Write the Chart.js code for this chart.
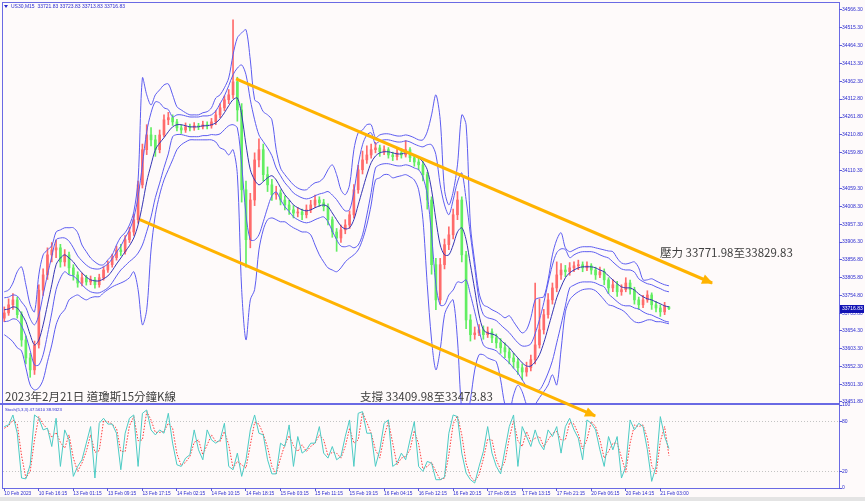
<!DOCTYPE html>
<html lang="zh-Hant">
<head>
<meta charset="utf-8">
<title>US30 M15</title>
<script src="https://cdn.jsdelivr.net/npm/chart.js@4.4.1/dist/chart.umd.min.js"></script>
<style>
  html, body { margin: 0; padding: 0; background: #fefafa; }
  #wrap { position: relative; width: 865px; height: 501px; overflow: hidden; background: #fefafa; }
  #wrap canvas { position: absolute; left: 0; top: 0; }
  #stoch-chart { z-index: 1; }
  #price-chart { z-index: 2; }
  .frame { position: absolute; background: #6a6ae4; z-index: 0; }
  .tiny { position: absolute; z-index: 3; font-family: 'Liberation Sans', Arial, sans-serif; color: #2b2bd0; white-space: nowrap; line-height: 1; }
  .note { position: absolute; z-index: 3; font-family: 'Noto Sans CJK TC', 'Noto Sans CJK SC', sans-serif; font-size: 11.5px; color: #404040; white-space: nowrap; line-height: 1; }
  .tri { position: absolute; left: 4px; top: 5px; width: 0; height: 0; border-left: 2px solid transparent; border-right: 2px solid transparent; border-top: 3px solid #2b2bd0; z-index: 3; }
  #status { position: absolute; left: 0; top: 497px; width: 865px; height: 4px; background: #e4e4e4; }
</style>
</head>
<body>
<div id="wrap">
  <div class="frame" style="left:2px;top:2px;width:838px;height:1px"></div>
  <div class="frame" style="left:2px;top:2px;width:1px;height:487px"></div>
  <div class="frame" style="left:839px;top:2px;width:1px;height:487px"></div>
  <div class="frame" style="left:0;top:403px;width:840px;height:2px"></div>
  <div class="frame" style="left:2px;top:488px;width:838px;height:1px"></div>
  <div id="status"></div>
  <canvas id="stoch-chart" width="865" height="501"></canvas>
  <canvas id="price-chart" width="865" height="501"></canvas>
  <div class="tri"></div>
  <div class="tiny" style="left:11px;top:4px;font-size:5px">US30,M15&nbsp;&nbsp;33721.83 33723.83 33713.83 33716.83</div>
  <div class="tiny" style="left:5px;top:408px;font-size:4.3px">Stoch(5,3,3) 47.5610 38.9323</div>
  <div class="note" style="left:5px;top:391px">2023年2月21日 道瓊斯15分鐘K線</div>
  <div class="note" style="left:360px;top:391px">支撐 33409.98至33473.83</div>
  <div class="note" style="left:660px;top:247px">壓力 33771.98至33829.83</div>
</div>
<script>
// time axis labels, one every 8 hourly bars
const timeLabels = ['10 Feb 2023', '10 Feb 16:15', '13 Feb 01:15', '13 Feb 09:15', '13 Feb 17:15', '14 Feb 02:15',
  '14 Feb 10:15', '14 Feb 18:15', '15 Feb 03:15', '15 Feb 11:15', '15 Feb 19:15', '16 Feb 04:15', '16 Feb 12:15',
  '16 Feb 20:15', '17 Feb 05:15', '17 Feb 13:15', '17 Feb 21:15', '20 Feb 06:15', '20 Feb 14:15', '21 Feb 03:00'];
const LABEL_EVERY = 8;

const priceTicks = [34566.30, 34515.30, 34464.30, 34413.30, 34362.30, 34312.80, 34261.80, 34210.80, 34159.80,
  34110.30, 34059.30, 34008.30, 33957.30, 33906.30, 33856.80, 33805.80, 33754.80, 33703.80, 33654.30,
  33603.30, 33552.30, 33501.30, 33451.80];
const stochTicks = [0, 20, 80, 100];

const opens = [33690,33705,33728,33742,33700,33628,33577,33543,33614,33770,
  33813,33870,33884,33890,33850,33870,33833,33813,33790,33805,
  33793,33799,33785,33805,33827,33842,33862,33884,33879,33913,
  33935,33970,34069,34169,34211,34197,34169,34211,34254,34260,
  34248,34231,34225,34234,34231,34237,34234,34240,34237,34248,
  34268,34288,34311,34325,34362,34282,34055,33913,34026,34140,
  34169,34098,34069,34041,34046,34026,34012,33998,33989,33992,
  33984,33998,34012,34026,34018,34007,33970,33935,33918,33941,
  33955,33984,34055,34112,34140,34154,34169,34174,34163,34169,
  34154,34149,34160,34154,34169,34146,34134,34126,34098,34026,
  33842,33742,33842,33899,33927,33984,34026,33870,33685,33643,
  33648,33657,33643,33651,33634,33620,33606,33594,33577,33566,
  33549,33537,33549,33572,33614,33657,33700,33742,33776,33813,
  33827,33822,33833,33839,33842,33833,33839,33827,33813,33822,
  33799,33776,33785,33765,33771,33790,33771,33742,33728,33742,
  33756,33728,33719,33708,33721.83];
const highs = [33722,33745,33760,33750,33708,33640,33590,33625,33785,33830,
  33890,33905,33912,33900,33885,33878,33842,33822,33818,33812,
  33810,33806,33815,33836,33852,33872,33895,33900,33925,33948,
  33985,34080,34185,34240,34232,34210,34225,34268,34275,34268,
  34255,34240,34245,34242,34246,34244,34250,34248,34258,34280,
  34300,34322,34340,34538,34375,34300,34080,34045,34160,34200,
  34185,34120,34085,34065,34055,34038,34025,34010,34005,34000,
  34012,34025,34040,34035,34028,34015,33978,33945,33955,33970,
  33995,34070,34125,34165,34180,34185,34190,34182,34180,34175,
  34162,34170,34172,34195,34175,34155,34145,34135,34105,34035,
  33860,33860,33915,33950,34000,34050,34035,33880,33700,33665,
  33672,33668,33665,33660,33645,33632,33620,33605,33590,33575,
  33560,33565,33585,33790,33745,33715,33760,33790,33850,33845,
  33840,33848,33850,33855,33850,33850,33845,33835,33835,33830,
  33805,33800,33795,33785,33805,33798,33778,33750,33755,33768,
  33762,33738,33728,33735,33723.83];
const lows = [33680,33698,33715,33690,33610,33560,33522,33530,33605,33755,
  33800,33850,33862,33835,33838,33815,33798,33778,33782,33784,
  33785,33775,33778,33798,33820,33835,33855,33868,33872,33905,
  33925,33960,34060,34155,34180,34150,34160,34205,34240,34238,
  34222,34215,34218,34222,34224,34226,34228,34228,34230,34240,
  34260,34280,34300,34315,34250,34020,33835,33890,34010,34120,
  34080,34050,34025,34028,34012,33998,33985,33975,33978,33970,
  33975,33990,34005,34008,33995,33955,33920,33880,33905,33930,
  33945,33975,34045,34100,34130,34145,34160,34150,34155,34145,
  34138,34140,34145,34148,34135,34122,34112,34080,34000,33815,
  33714,33730,33830,33885,33915,33970,33850,33660,33625,33630,
  33640,33630,33635,33620,33605,33590,33578,33560,33548,33530,
  33515,33525,33540,33560,33605,33645,33690,33730,33765,33800,
  33808,33812,33822,33828,33822,33825,33815,33800,33805,33785,
  33760,33765,33752,33755,33765,33758,33730,33715,33720,33735,
  33715,33708,33695,33700,33713.83];
const closes = [33705,33728,33742,33700,33628,33577,33543,33614,33770,33813,
  33870,33884,33890,33850,33870,33833,33813,33790,33805,33793,
  33799,33785,33805,33827,33842,33862,33884,33879,33913,33935,
  33970,34069,34169,34211,34197,34169,34211,34254,34260,34248,
  34231,34225,34234,34231,34237,34234,34240,34237,34248,34268,
  34288,34311,34325,34362,34282,34055,33913,34026,34140,34169,
  34098,34069,34041,34046,34026,34012,33998,33989,33992,33984,
  33998,34012,34026,34018,34007,33970,33935,33918,33941,33955,
  33984,34055,34112,34140,34154,34169,34174,34163,34169,34154,
  34149,34160,34154,34169,34146,34134,34126,34098,34026,33842,
  33742,33842,33899,33927,33984,34026,33870,33685,33643,33648,
  33657,33643,33651,33634,33620,33606,33594,33577,33566,33549,
  33537,33549,33572,33614,33657,33700,33742,33776,33813,33827,
  33822,33833,33839,33842,33833,33839,33827,33813,33822,33799,
  33776,33785,33765,33771,33790,33771,33742,33728,33742,33756,
  33728,33719,33708,33725,33716.83];

const bandOuterUp = [33765,33770,33790,33822,33836,33785,33728,33708,33813,33870,
  33884,33896,33935,33941,33947,33947,33947,33933,33898,33879,
  33861,33850,33842,33842,33856,33870,33898,33921,33933,33955,
  33992,34083,34373,34325,34296,34325,34339,34353,34356,34325,
  34291,34282,34274,34268,34268,34268,34274,34277,34288,34316,
  34325,34345,34373,34439,34487,34501,34510,34424,34311,34302,
  34277,34268,34254,34169,34117,34098,34083,34069,34060,34055,
  34055,34066,34075,34078,34089,34112,34126,34098,34055,34041,
  34069,34169,34217,34225,34240,34240,34203,34211,34214,34214,
  34211,34208,34208,34211,34208,34203,34197,34197,34220,34268,
  34325,34254,34055,34012,34049,34126,34268,34240,33955,33850,
  33762,33728,33722,33714,33708,33700,33691,33697,33680,33662,
  33648,33657,33691,33742,33748,33751,33799,33870,33913,33933,
  33890,33879,33884,33890,33893,33893,33893,33890,33887,33884,
  33881,33879,33861,33847,33844,33847,33850,33833,33799,33799,
  33802,33796,33790,33785,33782];
const bandUp = [33748,33750,33756,33753,33736,33720,33688,33671,33699,33756,
  33813,33865,33913,33918,33918,33909,33890,33867,33853,33841,
  33833,33830,33830,33836,33844,33859,33878,33895,33919,33941,
  33975,34035,34126,34220,34274,34305,34302,34288,34283,34262,
  34268,34268,34265,34262,34262,34262,34265,34265,34268,34279,
  34300,34322,34351,34382,34401,34410,34382,34311,34254,34211,
  34192,34174,34152,34117,34095,34075,34061,34046,34038,34032,
  34029,34032,34038,34043,34046,34050,34040,34027,34009,33995,
  33998,34050,34126,34183,34211,34217,34185,34194,34197,34197,
  34194,34191,34191,34194,34191,34185,34180,34177,34183,34183,
  34155,34069,34012,33984,34026,34077,34103,34027,33927,33834,
  33742,33700,33691,33688,33683,33671,33660,33649,33634,33620,
  33611,33611,33617,33646,33686,33734,33790,33841,33876,33887,
  33885,33862,33870,33876,33879,33879,33879,33876,33870,33865,
  33861,33850,33839,33830,33827,33827,33821,33802,33794,33788,
  33785,33779,33774,33768,33765];
const bandMid = [33714,33716,33722,33719,33702,33680,33643,33614,33628,33671,
  33728,33785,33842,33861,33870,33861,33850,33833,33819,33807,
  33799,33796,33796,33802,33810,33825,33844,33861,33879,33896,
  33918,33955,34012,34078,34126,34169,34188,34203,34220,34234,
  34240,34240,34237,34234,34234,34234,34237,34237,34240,34245,
  34257,34274,34294,34311,34316,34268,34183,34112,34083,34069,
  34078,34089,34095,34083,34061,34041,34027,34012,34004,33998,
  33995,33998,34004,34009,34012,34007,33989,33970,33952,33944,
  33947,33970,34012,34055,34097,34132,34151,34160,34163,34163,
  34160,34157,34157,34160,34157,34151,34146,34134,34112,34055,
  33970,33898,33870,33870,33898,33935,33947,33913,33842,33771,
  33699,33657,33648,33645,33640,33628,33617,33606,33591,33577,
  33563,33554,33554,33566,33586,33620,33662,33705,33748,33779,
  33805,33819,33827,33833,33836,33836,33836,33833,33827,33822,
  33810,33799,33788,33779,33776,33776,33770,33759,33751,33745,
  33742,33736,33731,33725,33722];
const bandLow = [33680,33682,33688,33685,33668,33640,33598,33557,33557,33586,
  33643,33705,33771,33804,33822,33813,33810,33799,33785,33773,
  33765,33762,33762,33768,33776,33791,33810,33827,33839,33851,
  33861,33875,33898,33936,33978,34033,34074,34118,34157,34206,
  34212,34212,34209,34206,34206,34206,34209,34209,34212,34211,
  34214,34226,34237,34240,34231,34126,33984,33913,33912,33927,
  33964,34004,34038,34049,34027,34007,33993,33978,33970,33964,
  33961,33964,33970,33975,33978,33964,33938,33913,33895,33893,
  33896,33890,33898,33927,33983,34047,34117,34126,34129,34129,
  34126,34123,34123,34126,34123,34117,34112,34091,34041,33927,
  33785,33727,33728,33756,33770,33793,33791,33799,33757,33708,
  33656,33614,33605,33602,33597,33585,33574,33563,33548,33534,
  33515,33497,33491,33486,33486,33506,33534,33569,33620,33671,
  33725,33776,33784,33790,33793,33793,33793,33790,33784,33779,
  33759,33748,33737,33728,33725,33725,33719,33716,33708,33702,
  33699,33693,33688,33682,33679];
const bandOuterLow = [33643,33634,33623,33606,33597,33549,33500,33486,33492,33515,
  33566,33614,33671,33700,33714,33742,33751,33756,33748,33742,
  33748,33751,33751,33762,33771,33779,33785,33790,33796,33805,
  33822,33771,33671,33714,33884,33984,34041,34083,34112,34140,
  34169,34183,34191,34197,34197,34197,34197,34197,34197,34191,
  34174,34169,34154,34169,34098,33771,33628,33742,33771,33884,
  33941,33970,33975,33970,33964,33964,33955,33947,33941,33935,
  33935,33927,33898,33870,33850,33833,33827,33822,33833,33850,
  33861,33870,33884,33913,33955,34012,34083,34089,34098,34098,
  34089,34092,34095,34098,34092,34083,34055,33970,33785,33628,
  33543,33600,33700,33728,33742,33628,33429,33401,33458,33543,
  33586,33586,33577,33572,33566,33515,33444,33424,33472,33500,
  33481,33444,33424,33444,33464,33481,33500,33529,33500,33600,
  33708,33742,33756,33765,33771,33773,33773,33768,33756,33742,
  33728,33725,33719,33714,33705,33691,33680,33677,33680,33685,
  33685,33680,33680,33677,33674];

const stochMain = [74,76,88,66,12,11,28,88,84,70,
  72,50,84,26,70,58,14,26,34,54,
  74,12,78,84,77,77,66,22,66,84,
  88,26,90,94,70,64,70,66,90,54,
  28,26,36,40,70,46,34,70,58,54,
  58,78,26,22,42,14,34,70,88,66,
  64,34,17,17,54,50,76,26,62,42,
  46,54,54,74,42,36,50,34,38,62,
  82,26,90,92,66,66,26,46,78,82,
  26,30,42,34,58,80,26,20,32,30,
  10,10,13,66,88,86,42,18,10,6,
  26,44,74,42,26,17,46,74,88,26,
  74,62,50,70,54,46,70,62,74,42,
  74,84,70,60,34,82,78,70,46,26,
  62,46,62,12,26,82,70,78,74,46,
  8,26,86,62,47.56];
const stochSignal = [72,75,82,77,39,12,20,58,86,77,
  71,61,67,55,48,64,36,20,30,44,
  64,43,45,81,80,77,72,44,44,75,
  86,57,58,92,82,67,67,68,78,72,
  41,27,31,38,55,58,40,52,64,56,
  56,68,52,24,32,28,24,52,79,77,
  65,49,26,17,36,52,63,51,44,52,
  44,50,54,64,58,39,43,42,36,50,
  72,54,58,91,79,66,46,36,62,80,
  54,28,36,38,46,69,53,23,26,31,
  20,10,12,40,77,87,64,30,14,8,
  16,35,59,58,34,22,32,60,81,57,
  50,68,56,60,62,50,58,66,68,58,
  58,79,77,65,47,58,80,74,58,36,
  44,54,54,37,19,54,76,74,76,60,
  27,17,56,74,38.93];

// hand drawn trend lines: [bar index, price] at start and end
const resistanceX = [53.7, 164.0];
const resistancePrice = [34370, 33790];
const supportX = [31.4, 136.9];
const supportPrice = [33970, 33412];

const X_MIN = -0.3;
const X_MAX = 193.4;
const UP = '#ff6b6b';
const DOWN = '#62ee62';
const AXIS_TEXT = '#2b2bd0';
const AXIS_TICK = '#5a5ad8';
const BAND = '#5c5cf0';
const ORANGE = '#ffb300';

Chart.defaults.font.family = "'Liberation Sans', Arial, sans-serif";

function series(values) {
  return values.map((v, i) => ({ x: i, y: v }));
}

function candleColor(i) {
  return closes[i] >= opens[i] ? UP : DOWN;
}

function bandLine(values, color) {
  return { type: 'line', data: series(values), borderColor: color, borderWidth: 1, pointRadius: 0, tension: 0.3, order: 1 };
}

function trendLine(xs, ys) {
  return {
    type: 'line',
    data: xs.map((x, i) => ({ x, y: ys[i] })),
    borderColor: ORANGE,
    borderWidth: 3,
    pointRadius: 0,
    clip: false,
    order: 0,
    arrow: true
  };
}

const arrowHeads = {
  id: 'arrowHeads',
  afterDatasetsDraw(chart) {
    const ctx = chart.ctx;
    chart.data.datasets.forEach((ds, di) => {
      if (!ds.arrow) return;
      const pts = chart.getDatasetMeta(di).data;
      const a = pts[pts.length - 2];
      const b = pts[pts.length - 1];
      const ang = Math.atan2(b.y - a.y, b.x - a.x);
      ctx.save();
      ctx.fillStyle = ds.borderColor;
      ctx.translate(b.x, b.y);
      ctx.rotate(ang);
      ctx.beginPath();
      ctx.moveTo(1, 0);
      ctx.lineTo(-10, -5);
      ctx.lineTo(-10, 5);
      ctx.closePath();
      ctx.fill();
      ctx.restore();
    });
  }
};

const lastPriceTag = {
  id: 'lastPriceTag',
  afterDraw(chart) {
    const s = chart.scales.y;
    const last = closes[closes.length - 1];
    const y = Math.round(s.getPixelForValue(last));
    const ctx = chart.ctx;
    ctx.save();
    ctx.fillStyle = '#1212b4';
    ctx.fillRect(s.left + 1, y - 4, s.width - 2, 8);
    ctx.fillStyle = '#ffffff';
    ctx.font = "5px 'Liberation Sans', Arial, sans-serif";
    ctx.textBaseline = 'middle';
    ctx.fillText(last.toFixed(2), s.left + 3, y);
    ctx.restore();
  }
};

const idx = closes.map((_, i) => i);

new Chart(document.getElementById('price-chart'), {
  type: 'bar',
  data: {
    datasets: [
      trendLine(resistanceX, resistancePrice),
      trendLine(supportX, supportPrice),
      bandLine(bandMid, '#3434b4'),
      bandLine(bandOuterUp, BAND),
      bandLine(bandUp, BAND),
      bandLine(bandLow, BAND),
      bandLine(bandOuterLow, BAND),
      {
        data: idx.map((i) => ({ x: i, y: [opens[i], closes[i]] })),
        backgroundColor: (c) => candleColor(c.dataIndex),
        barThickness: 2,
        minBarLength: 1,
        grouped: false,
        order: 2
      },
      {
        data: idx.map((i) => ({ x: i, y: [lows[i], highs[i]] })),
        backgroundColor: (c) => candleColor(c.dataIndex),
        barThickness: 1,
        grouped: false,
        order: 3
      }
    ]
  },
  options: {
    responsive: false,
    animation: false,
    events: [],
    layout: { padding: { left: 3, top: 3, right: 0, bottom: 97 } },
    plugins: { legend: { display: false }, tooltip: { enabled: false } },
    scales: {
      x: { type: 'linear', min: X_MIN, max: X_MAX, offset: false, display: false },
      y: {
        position: 'right',
        min: 33446,
        max: 34586,
        afterFit: (scale) => { scale.width = 26; },
        afterBuildTicks: (scale) => { scale.ticks = priceTicks.map((v) => ({ value: v })); },
        ticks: {
          autoSkip: false,
          padding: 0,
          color: AXIS_TEXT,
          font: { size: 5 },
          callback: (v) => Number(v).toFixed(2)
        },
        grid: { drawOnChartArea: false, drawTicks: true, tickLength: 3, tickColor: AXIS_TICK },
        border: { display: false }
      }
    }
  },
  plugins: [arrowHeads, lastPriceTag]
});

new Chart(document.getElementById('stoch-chart'), {
  type: 'line',
  data: {
    datasets: [
      { data: series(stochMain), borderColor: '#4ccbc4', borderWidth: 1, pointRadius: 0, tension: 0 },
      { data: series(stochSignal), borderColor: '#ff3a3a', borderWidth: 1, borderDash: [1.5, 1.5], pointRadius: 0, tension: 0 }
    ]
  },
  options: {
    responsive: false,
    animation: false,
    events: [],
    layout: { padding: { left: 3, top: 405, right: 0, bottom: 0 } },
    plugins: { legend: { display: false }, tooltip: { enabled: false } },
    scales: {
      x: {
        type: 'linear',
        min: X_MIN,
        max: X_MAX,
        offset: false,
        afterFit: (scale) => { scale.height = 13; },
        afterBuildTicks: (scale) => { scale.ticks = timeLabels.map((_, k) => ({ value: k * LABEL_EVERY })); },
        ticks: {
          autoSkip: false,
          maxRotation: 0,
          align: 'start',
          padding: 0,
          color: AXIS_TEXT,
          font: { size: 4.8 },
          callback: (v) => timeLabels[Math.round(v / LABEL_EVERY)]
        },
        grid: { drawOnChartArea: false, drawTicks: true, tickLength: 3, tickColor: AXIS_TICK },
        border: { display: false }
      },
      y: {
        position: 'right',
        min: 0,
        max: 100,
        afterFit: (scale) => { scale.width = 26; },
        afterBuildTicks: (scale) => { scale.ticks = stochTicks.map((v) => ({ value: v })); },
        ticks: { padding: 0, color: AXIS_TEXT, font: { size: 5 }, callback: (v) => String(v) },
        grid: {
          drawTicks: true,
          tickLength: 3,
          tickColor: AXIS_TICK,
          color: (c) => (c.tick && (c.tick.value === 20 || c.tick.value === 80)) ? '#c4c4c4' : 'rgba(0,0,0,0)'
        },
        border: { display: false, dash: [1, 2] }
      }
    }
  }
});
</script>
</body>
</html>
